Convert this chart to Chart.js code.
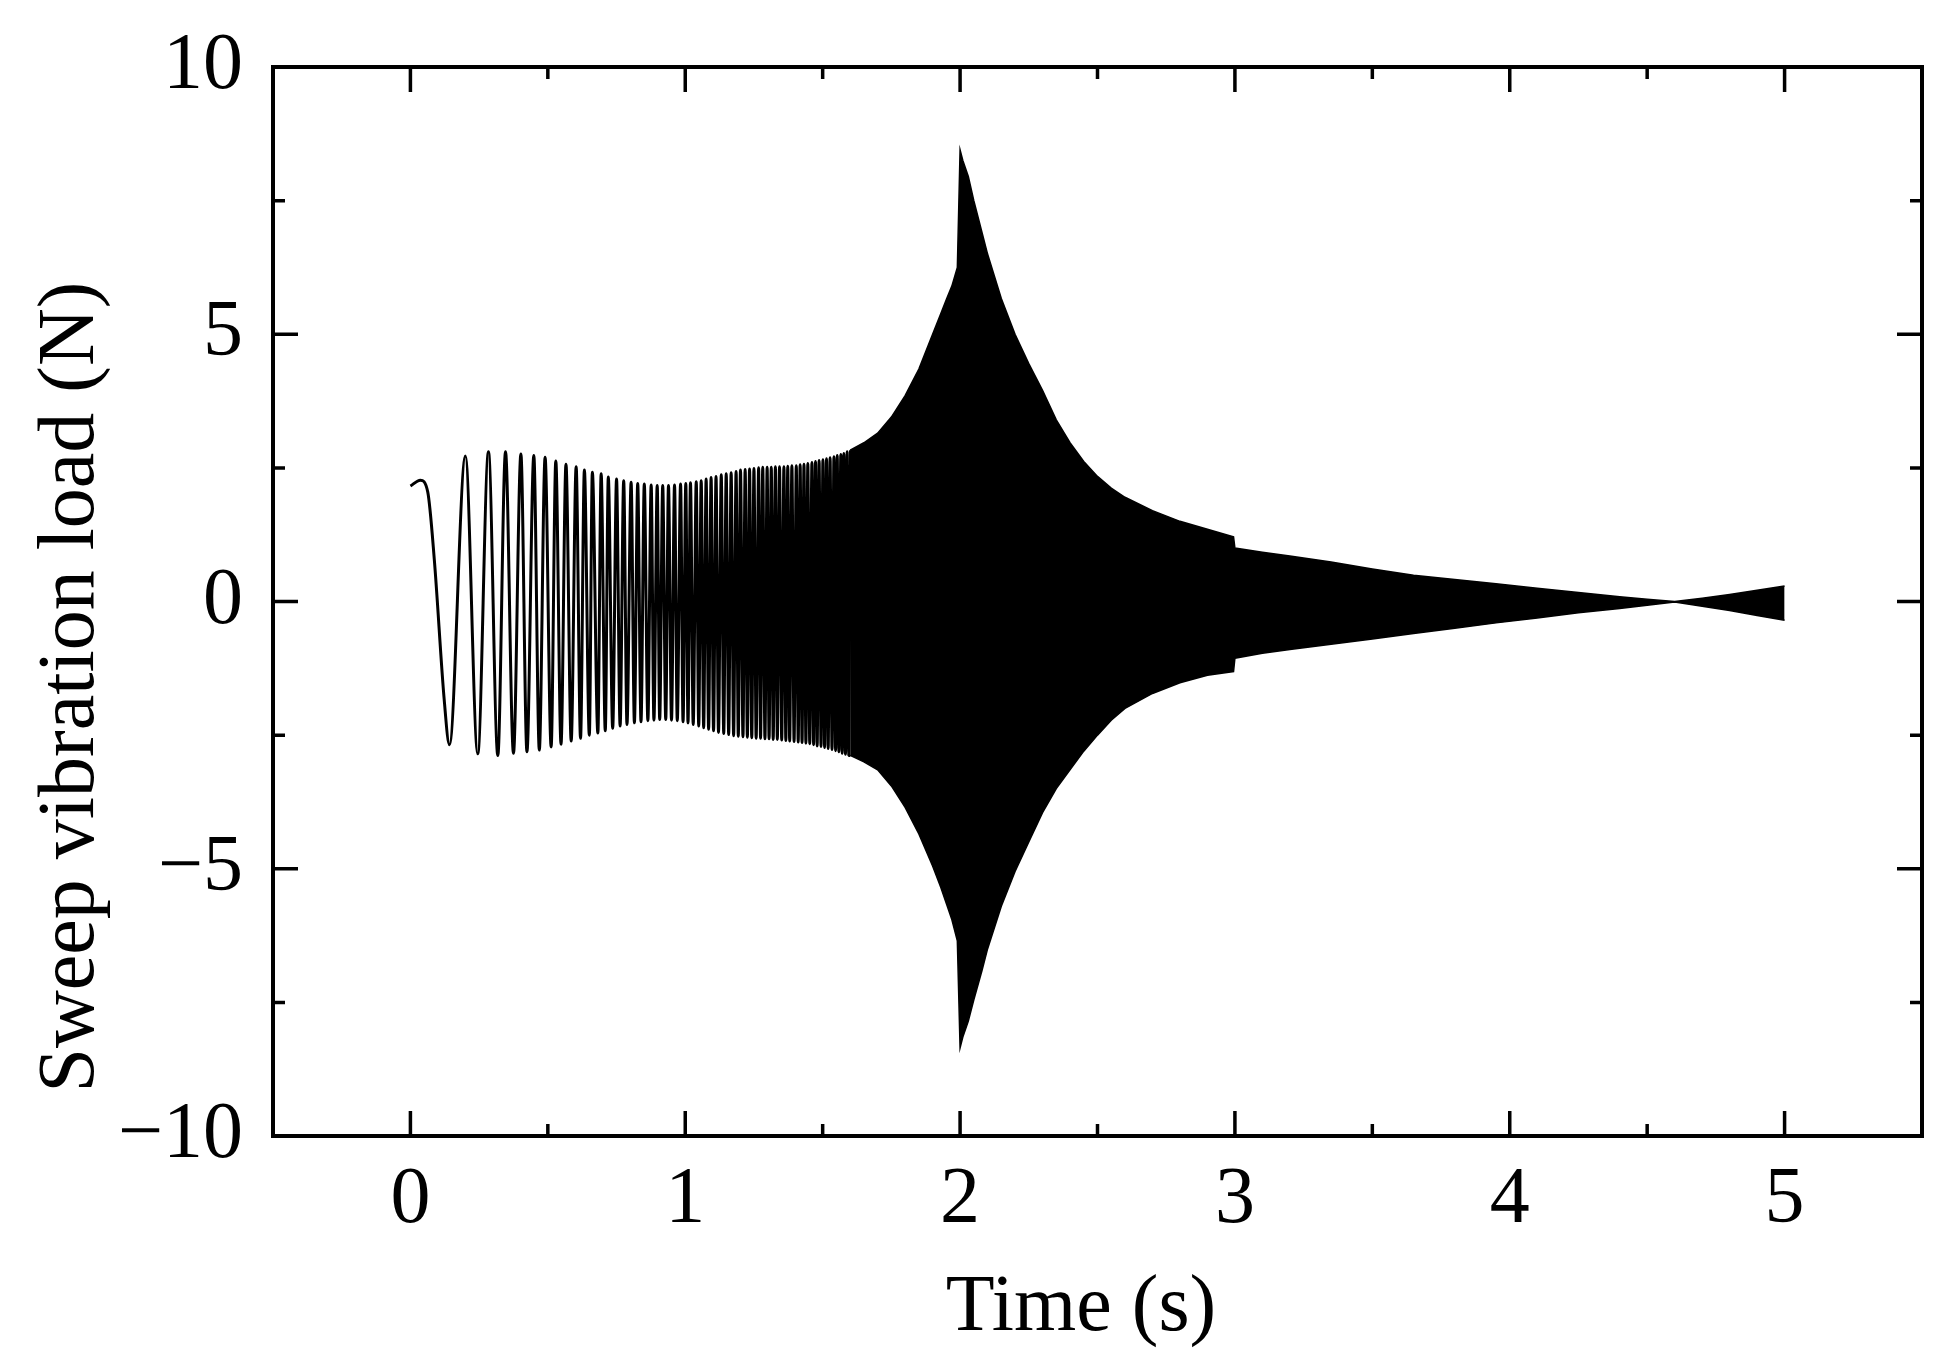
<!doctype html>
<html lang="en">
<head>
  <meta charset="utf-8" />
  <script src="https://cdn.jsdelivr.net/npm/chart.js@4/dist/chart.umd.min.js"></script>
  <style>
    html, body {
      margin: 0;
      padding: 0;
      width: 1951px;
      height: 1368px;
      background: #ffffff;
    }
    canvas {
      display: block;
    }
  </style>
</head>
<body>
  <canvas id="chart" width="1951" height="1368"></canvas>
  <script>
    // peaks and troughs of the sweep (time in s, load in N)
    const oscTime = [
      0.000, 0.036, 0.063, 0.087, 0.123, 0.142, 0.200, 0.245, 0.284, 0.318, 0.346, 0.375,
      0.402, 0.424, 0.449, 0.469, 0.490, 0.512, 0.529, 0.548, 0.566, 0.585, 0.603, 0.619,
      0.633, 0.651, 0.662, 0.682, 0.694, 0.709, 0.720, 0.736, 0.750, 0.763, 0.776, 0.788,
      0.803, 0.815, 0.827, 0.839, 0.851, 0.864, 0.876, 0.886, 0.898, 0.907, 0.918, 0.929,
      0.939, 0.950, 0.961, 0.971, 0.983, 0.992, 1.002, 1.010, 1.019, 1.029, 1.040, 1.049,
      1.058, 1.067, 1.076, 1.085, 1.094, 1.103, 1.112, 1.121, 1.131, 1.140, 1.149, 1.158,
      1.167, 1.176, 1.185, 1.193, 1.201, 1.210, 1.218, 1.226, 1.234, 1.242, 1.250, 1.258,
      1.267, 1.274, 1.282, 1.290, 1.298, 1.305, 1.313, 1.320, 1.328, 1.335, 1.343, 1.351,
      1.359, 1.366, 1.373, 1.380, 1.388, 1.396, 1.404, 1.411, 1.418, 1.425, 1.432, 1.439,
      1.446, 1.453, 1.461, 1.467, 1.474, 1.480, 1.487, 1.494, 1.501, 1.507, 1.514, 1.520,
      1.527, 1.534, 1.541, 1.547, 1.553, 1.559, 1.566, 1.571, 1.577, 1.583, 1.589, 1.595,
      1.601
    ];
    const oscLoad = [
      2.16, 2.27, 2.05, 0.78, -1.84, -2.68, 2.72, -2.85, 2.80, -2.88, 2.80, -2.84,
      2.76, -2.81, 2.73, -2.78, 2.70, -2.72, 2.63, -2.67, 2.57, -2.61, 2.52, -2.56,
      2.46, -2.50, 2.42, -2.46, 2.39, -2.42, 2.33, -2.37, 2.29, -2.33, 2.26, -2.30,
      2.23, -2.27, 2.21, -2.25, 2.20, -2.23, 2.18, -2.22, 2.17, -2.21, 2.17, -2.21,
      2.17, -2.22, 2.18, -2.23, 2.20, -2.25, 2.21, -2.27, 2.22, -2.30, 2.24, -2.33,
      2.26, -2.36, 2.29, -2.39, 2.32, -2.42, 2.34, -2.45, 2.37, -2.47, 2.39, -2.49,
      2.41, -2.51, 2.43, -2.52, 2.46, -2.53, 2.47, -2.54, 2.48, -2.55, 2.49, -2.56,
      2.50, -2.56, 2.51, -2.57, 2.51, -2.57, 2.51, -2.58, 2.52, -2.58, 2.52, -2.59,
      2.52, -2.60, 2.53, -2.61, 2.54, -2.62, 2.54, -2.63, 2.56, -2.64, 2.57, -2.65,
      2.58, -2.66, 2.60, -2.68, 2.62, -2.70, 2.64, -2.71, 2.65, -2.73, 2.67, -2.75,
      2.69, -2.77, 2.71, -2.79, 2.73, -2.81, 2.75, -2.84, 2.77, -2.86, 2.80, -2.88,
      2.83
    ];

    // dense part: upper and lower envelope of the black band
    const envTime = [
      1.60, 1.65, 1.70, 1.75, 1.80, 1.85, 1.90, 1.93, 1.95, 1.97, 1.99, 2.00,
      2.01, 2.03, 2.05, 2.08, 2.10, 2.15, 2.20, 2.25, 2.30, 2.35, 2.40, 2.45,
      2.50, 2.55, 2.60, 2.70, 2.80, 2.90, 2.995, 3.00, 3.10, 3.20, 3.35, 3.50, 3.65,
      3.80, 3.95, 4.10, 4.25, 4.40, 4.50, 4.60, 4.70, 4.80, 4.90, 5.00
    ];
    const envUpper = [
      2.83, 2.97, 3.15, 3.45, 3.85, 4.35, 5.00, 5.39, 5.65, 5.90, 6.25, 8.45,
      8.25, 7.95, 7.50, 6.90, 6.50, 5.67, 5.00, 4.45, 3.95, 3.40, 2.97, 2.62,
      2.34, 2.12, 1.95, 1.70, 1.50, 1.35, 1.21, 1.00, 0.92, 0.85, 0.74, 0.61, 0.49,
      0.41, 0.33, 0.25, 0.17, 0.09, 0.04, 0.00, 0.06, 0.13, 0.21, 0.29
    ];
    const envLower = [
      -2.88, -3.00, -3.15, -3.45, -3.85, -4.35, -4.95, -5.35, -5.65, -5.95, -6.35, -8.35,
      -8.15, -7.85, -7.45, -6.90, -6.50, -5.70, -5.05, -4.50, -3.95, -3.50, -3.15, -2.80,
      -2.50, -2.22, -2.00, -1.72, -1.52, -1.38, -1.31, -1.06, -0.97, -0.90, -0.80, -0.70, -0.60,
      -0.50, -0.40, -0.31, -0.21, -0.13, -0.07, -0.01, -0.09, -0.17, -0.26, -0.35
    ];

    const xTicks = [0, 1, 2, 3, 4, 5];
    const xMinorTicks = [0.5, 1.5, 2.5, 3.5, 4.5];
    const yTicks = [-10, -5, 0, 5, 10];
    const yMinorTicks = [-7.5, -2.5, 2.5, 7.5];

    const xTitle = 'Time (s)';
    const yTitle = 'Sweep vibration load (N)';

    const FONT = '"Liberation Serif", "Times New Roman", serif';
    const INK = '#000000';

    const toPoints = (xs, ys) => xs.map((x, i) => ({ x, y: ys[i] }));

    // frame, inward ticks on all four sides, and the two axis titles
    const frameTicks = {
      id: 'frameTicks',
      afterDraw(chart) {
        const { ctx, chartArea: a, scales: { x, y } } = chart;
        const major = 25;
        const minor = 12;
        ctx.save();
        ctx.strokeStyle = INK;
        ctx.lineWidth = 3.5;
        ctx.beginPath();
        for (const [vals, len] of [[xTicks, major], [xMinorTicks, minor]]) {
          for (const v of vals) {
            const px = x.getPixelForValue(v);
            ctx.moveTo(px, a.bottom);
            ctx.lineTo(px, a.bottom - len);
            ctx.moveTo(px, a.top);
            ctx.lineTo(px, a.top + len);
          }
        }
        for (const [vals, len] of [[yTicks, major], [yMinorTicks, minor]]) {
          for (const v of vals) {
            const py = y.getPixelForValue(v);
            ctx.moveTo(a.left, py);
            ctx.lineTo(a.left + len, py);
            ctx.moveTo(a.right, py);
            ctx.lineTo(a.right - len, py);
          }
        }
        ctx.stroke();
        ctx.lineWidth = 4;
        ctx.strokeRect(a.left, a.top, a.right - a.left, a.bottom - a.top);

        // titles sit a bit off-centre in the original figure
        ctx.fillStyle = INK;
        ctx.font = `80px ${FONT}`;
        ctx.textAlign = 'center';
        ctx.textBaseline = 'middle';
        ctx.fillText(xTitle, x.getPixelForValue(2.44), 1309);
        ctx.translate(72, y.getPixelForValue(-1.6));
        ctx.rotate(-Math.PI / 2);
        ctx.fillText(yTitle, 0, 0);
        ctx.restore();
      },
    };

    new Chart(document.getElementById('chart'), {
      type: 'line',
      data: {
        datasets: [
          {
            data: toPoints(oscTime, oscLoad),
            borderColor: INK,
            borderWidth: 3,
            pointRadius: 0,
            fill: false,
            cubicInterpolationMode: 'monotone',
          },
          {
            data: toPoints(envTime, envUpper),
            borderColor: INK,
            borderWidth: 1.5,
            pointRadius: 0,
            fill: false,
          },
          {
            data: toPoints(envTime, envLower),
            borderColor: INK,
            borderWidth: 1.5,
            backgroundColor: INK,
            pointRadius: 0,
            fill: '-1',
          },
        ],
      },
      options: {
        responsive: false,
        animation: false,
        devicePixelRatio: 1,
        layout: { padding: { top: 67, right: 29, left: 0, bottom: 0 } },
        plugins: {
          legend: { display: false },
          tooltip: { enabled: false },
        },
        scales: {
          x: {
            type: 'linear',
            min: -0.5,
            max: 5.5,
            afterBuildTicks: axis => { axis.ticks = xTicks.map(v => ({ value: v })); },
            afterFit: axis => {
              axis.height = 232;
              axis.paddingLeft = 0;
              axis.paddingRight = 0;
            },
            grid: { display: false, drawTicks: false },
            border: { display: false },
            ticks: {
              color: INK,
              padding: 17,
              maxRotation: 0,
              font: { family: FONT, size: 80 },
              callback: v => String(v),
            },
          },
          y: {
            type: 'linear',
            min: -10,
            max: 10,
            afterBuildTicks: axis => { axis.ticks = yTicks.map(v => ({ value: v })); },
            afterFit: axis => {
              axis.width = 273;
              axis.paddingTop = 0;
              axis.paddingBottom = 0;
            },
            grid: { display: false, drawTicks: false },
            border: { display: false },
            ticks: {
              color: INK,
              padding: 30,
              font: { family: FONT, size: 80 },
              callback: v => (v < 0 ? '\u2212' + Math.abs(v) : String(v)),
            },
          },
        },
      },
      plugins: [frameTicks],
    });
  </script>
</body>
</html>
